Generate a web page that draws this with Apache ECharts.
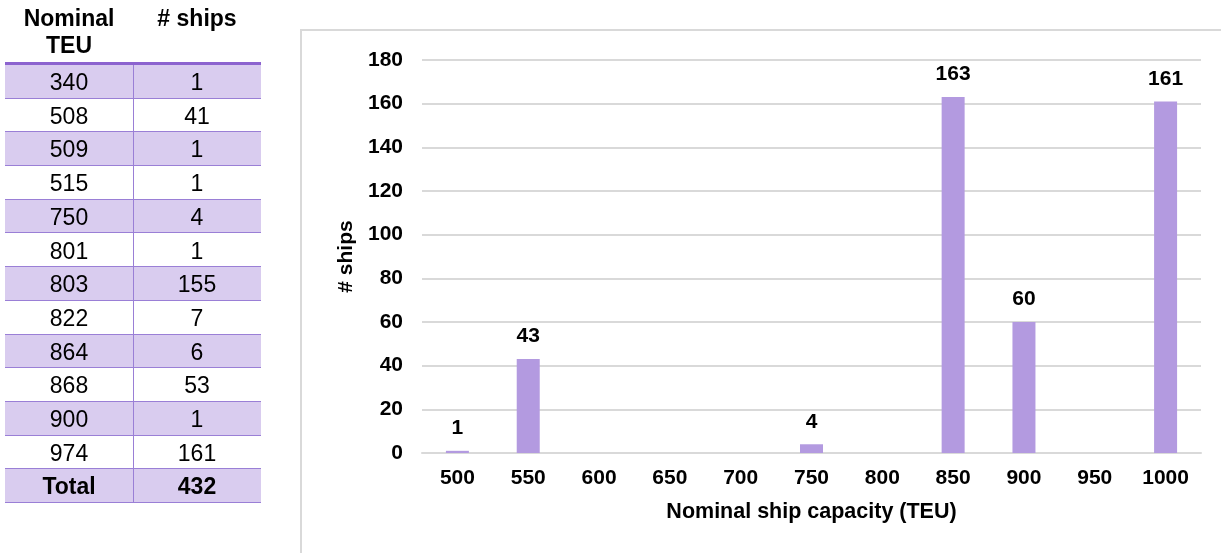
<!DOCTYPE html>
<html>
<head>
<meta charset="utf-8">
<script src="https://cdn.jsdelivr.net/npm/echarts@6/dist/echarts.min.js"></script>
<style>
  html, body { margin: 0; padding: 0; background: #fff; }
  body { width: 1221px; height: 553px; position: relative; overflow: hidden; font-family: "Liberation Sans", Arial, sans-serif; }
  #chart { position: absolute; left: 0; top: 0; width: 1221px; height: 553px; }
  #table { position: absolute; left: 0; top: 0; width: 270px; height: 553px; z-index: 2; }
  .hdr { position: absolute; top: 5px; width: 128px; text-align: center; font-weight: bold; font-size: 23px; line-height: 27px; color: #000; }
  .row { position: absolute; left: 5px; width: 256px; height: 33.7px; box-sizing: border-box; border-bottom: 1.5px solid #9a7fd6; }
  .row.shade { background: #d9ccef; }
  .cell { position: absolute; top: 0; width: 128px; height: 33.7px; line-height: 35px; text-align: center; font-size: 23px; color: #000; }
  .row.total .cell { font-weight: bold; }
  .topline { position: absolute; left: 5px; top: 62px; width: 256px; height: 3px; background: #8c63cf; }
  .divider { position: absolute; left: 132.5px; top: 65px; width: 1.5px; height: 438px; background: #9a7fd6; z-index: 3; }
</style>
</head>
<body>
<div id="chart"></div>
<div id="table"></div>
<script>
// Ship counts listed by exact nominal capacity
const teuHeader = ['Nominal', 'TEU'];
const shipsHeader = '# ships';
const teuValues = ['340', '508', '509', '515', '750', '801', '803', '822', '864', '868', '900', '974'];
const shipCounts = ['1', '41', '1', '1', '4', '1', '155', '7', '6', '53', '1', '161'];
const totalLabel = 'Total';
const totalShips = '432';

// Ship counts grouped into 50 TEU capacity bins
const capacityBins = ['500', '550', '600', '650', '700', '750', '800', '850', '900', '950', '1000'];
const shipsPerBin = [1, 43, null, null, null, 4, null, 163, 60, null, 161];
const axisTitleX = 'Nominal ship capacity (TEU)';
const axisTitleY = '# ships';

// ---- table ----
const table = document.getElementById('table');
const rowH = 33.7;
const rowTop = 65;

function addDiv(parent, cls, text, styles) {
  const d = document.createElement('div');
  d.className = cls;
  if (text !== undefined) d.textContent = text;
  Object.assign(d.style, styles || {});
  parent.appendChild(d);
  return d;
}

const h1 = addDiv(table, 'hdr', undefined, { left: '5px' });
h1.innerHTML = teuHeader.join('<br>');
addDiv(table, 'hdr', shipsHeader, { left: '133px' });
addDiv(table, 'topline');

const rows = teuValues.map((v, i) => [v, shipCounts[i], false]);
rows.push([totalLabel, totalShips, true]);
rows.forEach((r, i) => {
  const row = addDiv(table, 'row' + (i % 2 === 0 ? ' shade' : '') + (r[2] ? ' total' : ''), undefined, { top: (rowTop + i * rowH) + 'px' });
  addDiv(row, 'cell', r[0], { left: '0px' });
  addDiv(row, 'cell', r[1], { left: '128px' });
});
addDiv(table, 'divider');

// ---- chart ----
const chart = echarts.init(document.getElementById('chart'), null, { renderer: 'canvas' });
const txt = { color: '#000', fontWeight: 'bold', fontSize: 21, fontFamily: 'Liberation Sans, Arial, sans-serif' };
chart.setOption({
  animation: false,
  graphic: [{
    type: 'rect',
    shape: { x: 301, y: 30, width: 1000, height: 600 },
    style: { fill: 'none', stroke: '#d9d9d9', lineWidth: 2 },
    z: -1
  }],
  grid: { left: 422, right: 20, top: 60, bottom: 100, containLabel: false },
  xAxis: {
    type: 'category',
    data: capacityBins,
    axisLine: { lineStyle: { color: '#d9d9d9', width: 2 } },
    axisTick: { show: false },
    axisLabel: Object.assign({ margin: 15 }, txt),
    name: axisTitleX,
    nameLocation: 'middle',
    nameGap: 48,
    nameTextStyle: Object.assign({}, txt, { fontSize: 21.5 })
  },
  yAxis: {
    type: 'value',
    min: 0,
    max: 180,
    interval: 20,
    splitLine: { lineStyle: { color: '#d9d9d9', width: 2 } },
    axisLabel: Object.assign({ margin: 19 }, txt),
    name: axisTitleY,
    nameLocation: 'middle',
    nameGap: 65,
    nameRotate: 90,
    nameTextStyle: txt
  },
  series: [{
    type: 'bar',
    data: shipsPerBin,
    barWidth: 23,
    itemStyle: { color: '#b39ae0' },
    label: Object.assign({ show: true, position: 'top', distance: 12 }, txt)
  }]
});
</script>
</body>
</html>
